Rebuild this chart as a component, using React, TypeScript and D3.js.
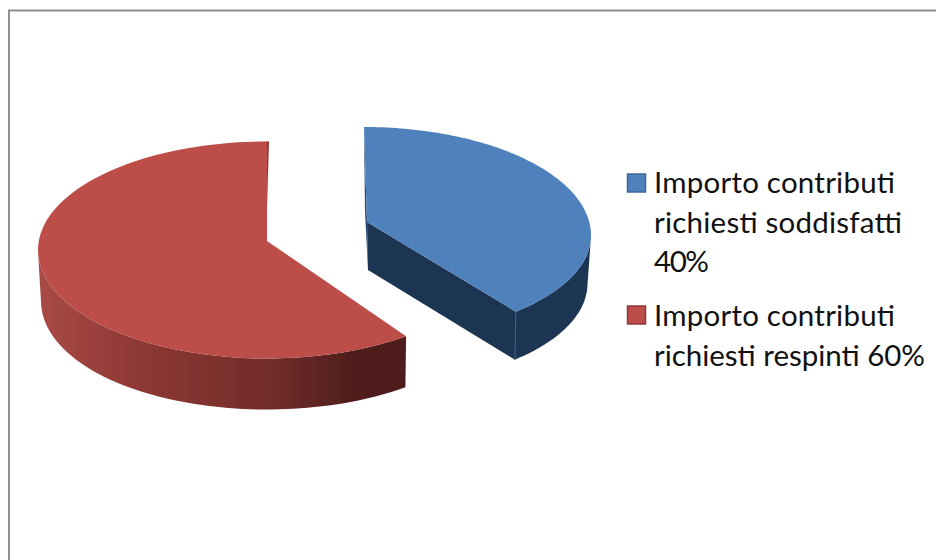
import React from "react";
import * as d3 from "d3";

const categories = ["Importo contributi richiesti soddisfatti 40%", "Importo contributi richiesti respinti 60%"];
const values = [40, 60];
const legendLines = [
  ["Importo contributi", "richiesti soddisfatti", "40%"],
  ["Importo contributi", "richiesti respinti 60%"],
];
const topColors = ["#4F81BD", "#BC4E4A"];
const strokeColors = ["#3F6797", "#8E3A38"];

const W = 936;
const H = 560;
const deg = Math.PI / 180;

type Geo = { cx: number; cy: number; rx: number; ry: number; ryFront: number; depth: number; shrink: number; ax: number; ay: number; drawn: [number, number] };
const geos: Geo[] = [
  { cx: 364, cy: 235.5, rx: 227, ry: 108.5, ryFront: 102.5, depth: 48, shrink: 3.5, ax: 367, ay: 222, drawn: [0, 138 * deg] },
  { cx: 267, cy: 250, rx: 229, ry: 108.5, ryFront: 108.5, depth: 51, shrink: 3, ax: 267, ay: 241, drawn: [142.6 * deg, 360 * deg] },
];
const legendWidths = [[241, 248, 55], [241, 271]];

const arcs = d3.pie<number>().sort(null).startAngle(0).endAngle(2 * Math.PI)(values);

export default function App() {
  const line = d3.line<[number, number]>();
  const slices = arcs.map((arc, i) => {
    const g = geos[i];
    const ang = d3.scaleLinear().domain([arc.startAngle, arc.endAngle]).range(g.drawn);
    const pt = (t: number, dz = 0): [number, number] => {
      const a = ang(t);
      const s = Math.sin(a);
      const c = Math.cos(a);
      const pull = dz ? g.shrink * s * s * s : 0;
      return [g.cx + g.rx * s - pull, g.cy - (c < 0 ? g.ryFront : g.ry) * c + dz];
    };
    const ts = d3.range(0, 121).map((k) => arc.startAngle + ((arc.endAngle - arc.startAngle) * k) / 120);
    const rim = ts.map((t) => pt(t));
    const apex: [number, number] = [g.ax, g.ay];
    const top = line([apex, ...rim]) + "Z";
    const front = ts.filter((t) => {
      const a = ang(t);
      return a > 90 * deg && a < 270 * deg;
    });
    const wall =
      line([...front.map((t) => pt(t)), ...front.slice().reverse().map((t) => pt(t, g.depth))]) + "Z";
    return { top, wall, rim, apex, g, pt, arc };
  });

  const [blue, red] = slices;
  const blueEnd = blue.rim[blue.rim.length - 1];
  const blueStart = blue.rim[0];
  const blueCut = line([
    blue.apex,
    blueEnd,
    [blueEnd[0] - 1, blueEnd[1] + blue.g.depth],
    [blue.apex[0] + 1, blue.apex[1] + blue.g.depth],
  ])! + "Z";
  const blueSliver = line([
    blueStart,
    blue.apex,
    [blue.apex[0] + 1, blue.apex[1] + blue.g.depth],
    [blue.apex[0] - 2, blue.apex[1] - 10],
  ])! + "Z";
  const redEnd = red.rim[red.rim.length - 1];
  const redSliver = line([
    [redEnd[0] - 1, redEnd[1]],
    [redEnd[0] + 2, redEnd[1]],
    [red.apex[0] - 1, red.apex[1]],
    [red.apex[0] - 2, red.apex[1] - 8],
  ])! + "Z";

  const xGrad = d3.scaleLinear().domain([38, 406]).range([0, 1]);

  return (
    <svg
      width={W}
      height={H}
      viewBox={`0 0 ${W} ${H}`}
      style={{ position: "absolute", left: 0, top: 0, background: "#fff" }}
    >
      <defs>
        <linearGradient id="redSide" gradientUnits="userSpaceOnUse" x1={xGrad.invert(0)} x2={xGrad.invert(1)} y1={0} y2={0}>
          <stop offset="0" stopColor="#A84A45" />
          <stop offset="0.3" stopColor="#8C3733" />
          <stop offset="0.65" stopColor="#702C2A" />
          <stop offset="0.86" stopColor="#4F1D1B" />
          <stop offset="1" stopColor="#4F1D1B" />
        </linearGradient>
        <filter id="soft" x="-5%" y="-5%" width="110%" height="110%">
          <feGaussianBlur stdDeviation="0.6" />
        </filter>
      </defs>

      <path d={`M9 ${H}V10.5H${W}`} fill="none" stroke="#8E8E8E" strokeWidth={2} />

      <g filter="url(#soft)">
        <path d={red.wall} fill="url(#redSide)" />
        <path d={redSliver} fill="#8C3733" />
        <path d={red.top} fill={topColors[1]} />
        <path d={blueSliver} fill="#2B4A73" />
        <path d={blueCut} fill="#1F3552" />
        <path d={blue.wall} fill="#1F3552" />
        <path d={blue.top} fill={topColors[0]} />
        <path
          d={line([blueEnd, [blueEnd[0] - 1, blueEnd[1] + blue.g.depth]])!}
          stroke="#35608F"
          strokeWidth={1}
          fill="none"
        />
      </g>

      {categories.map((c, i) => {
        const swatchY = [174, 306][i];
        const baseY = [[193, 233, 272], [326, 366]][i];
        return (
          <g key={c}>
            <rect x={627.5} y={swatchY} width={18} height={18} fill={topColors[i]} stroke={strokeColors[i]} strokeWidth={1.5} />
            {legendLines[i].map((t, j) => (
              <text
                key={j}
                x={654}
                y={baseY[j]}
                fontFamily="Lato, Carlito, sans-serif"
                fontSize={29.5}
                fill="#111"
                textLength={legendWidths[i][j]}
                lengthAdjust="spacing"
              >
                {t}
              </text>
            ))}
          </g>
        );
      })}
    </svg>
  );
}
